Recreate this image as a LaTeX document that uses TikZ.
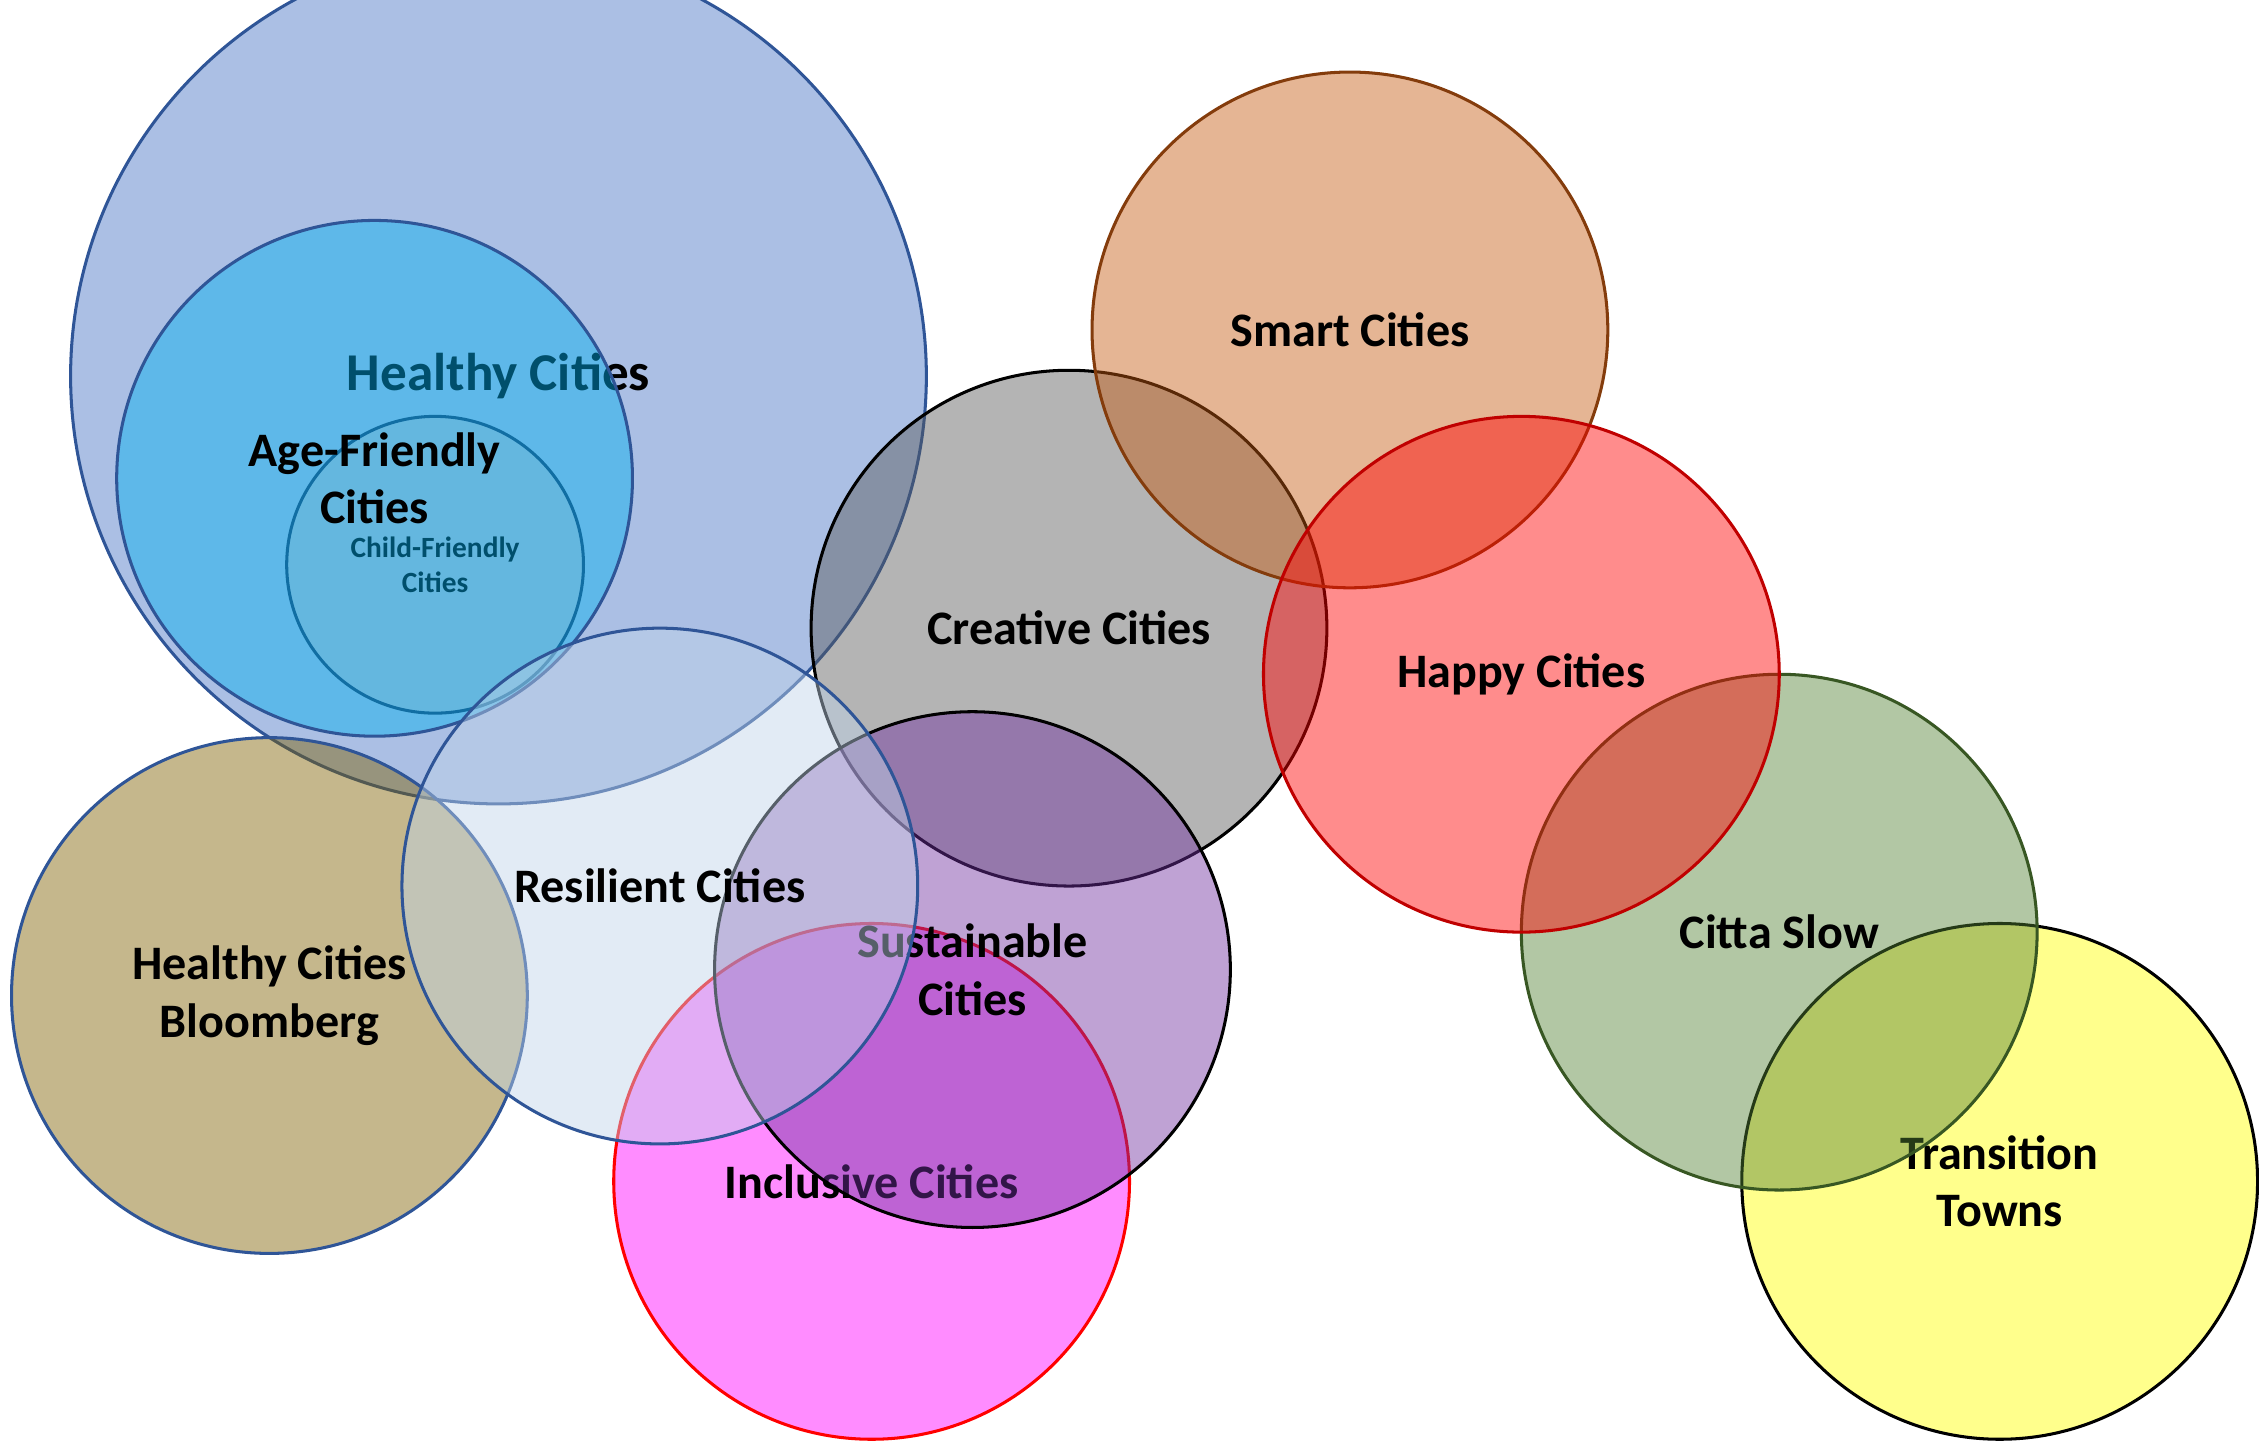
\documentclass[tikz,border=0pt]{standalone}
\usepackage{fontspec}
\setmainfont{Carlito}
\usetikzlibrary{positioning}

\definecolor{hcblue}{HTML}{4472C4}
\definecolor{hcline}{HTML}{2F5597}
\definecolor{agefill}{HTML}{00B0F0}
\definecolor{childfill}{RGB}{200,187,190}
\definecolor{childline}{HTML}{1F3864}
\definecolor{bloomfill}{HTML}{7F6000}
\definecolor{creafill}{HTML}{595959}
\definecolor{smartfill}{HTML}{C55A11}
\definecolor{smartline}{HTML}{843C0C}
\definecolor{happyfill}{RGB}{255,0,0}
\definecolor{happyline}{HTML}{C00000}
\definecolor{cittafill}{HTML}{548235}
\definecolor{cittaline}{HTML}{385723}
\definecolor{townfill}{RGB}{255,255,0}
\definecolor{inclfill}{RGB}{255,0,255}
\definecolor{inclline}{RGB}{255,0,0}
\definecolor{resfill}{RGB}{191,211,233}
\definecolor{susfill}{HTML}{7030A0}

\begin{document}
\begin{tikzpicture}[x=0.1mm, y=-0.1mm,
  city/.style={circle, draw, line width=0.6pt, inner sep=0pt, outer sep=0pt,
    minimum size=35.8mm, fill opacity=0.45, text opacity=1, align=center,
    font=\bfseries\fontsize{9.5}{11.4}\selectfont}]
  \useasboundingbox (0,0) rectangle (1568,1000);

  % Healthy Cities family
  \node[city, minimum size=59.4mm, fill=hcblue, draw=hcline,
    font=\bfseries\fontsize{10.5}{12.5}\selectfont] (healthy) at (346,261) {Healthy Cities};
  \node[city, minimum size=20.6mm, fill=childfill, draw=childline,
    font=\bfseries\fontsize{5.8}{6.9}\selectfont] (child) at (302,392) {Child-Friendly\\Cities};
  \node[city, fill=agefill, draw=hcline] (age) at (260,332) {Age-Friendly\\Cities};
  \node[city, fill=bloomfill, draw=hcline] (bloomberg) at (187,691) {Healthy Cities\\Bloomberg};

  % Upper chain
  \node[city, fill=creafill, draw=black] (creative) at (742,436) {Creative Cities};
  \node[city, fill=smartfill, draw=smartline] (smart) at (937,229) {Smart Cities};
  \node[city, fill=townfill, draw=black] (transition) at (1388,820) {Transition\\Towns};
  \node[city, fill=cittafill, draw=cittaline] (citta) at (1235,647) {Citta Slow};
  \node[city, fill=happyfill, draw=happyline] (happy) at (1056,468) {Happy Cities};

  % Lower group
  \node[city, fill=inclfill, draw=inclline] (inclusive) at (605,820) {Inclusive Cities};
  \node[city, fill=susfill, draw=black] (sustainable) at (675,673) {Sustainable\\Cities};
  \node[city, fill=resfill, draw=hcline] (resilient) at (458,615) {Resilient Cities};
\end{tikzpicture}
\end{document}
